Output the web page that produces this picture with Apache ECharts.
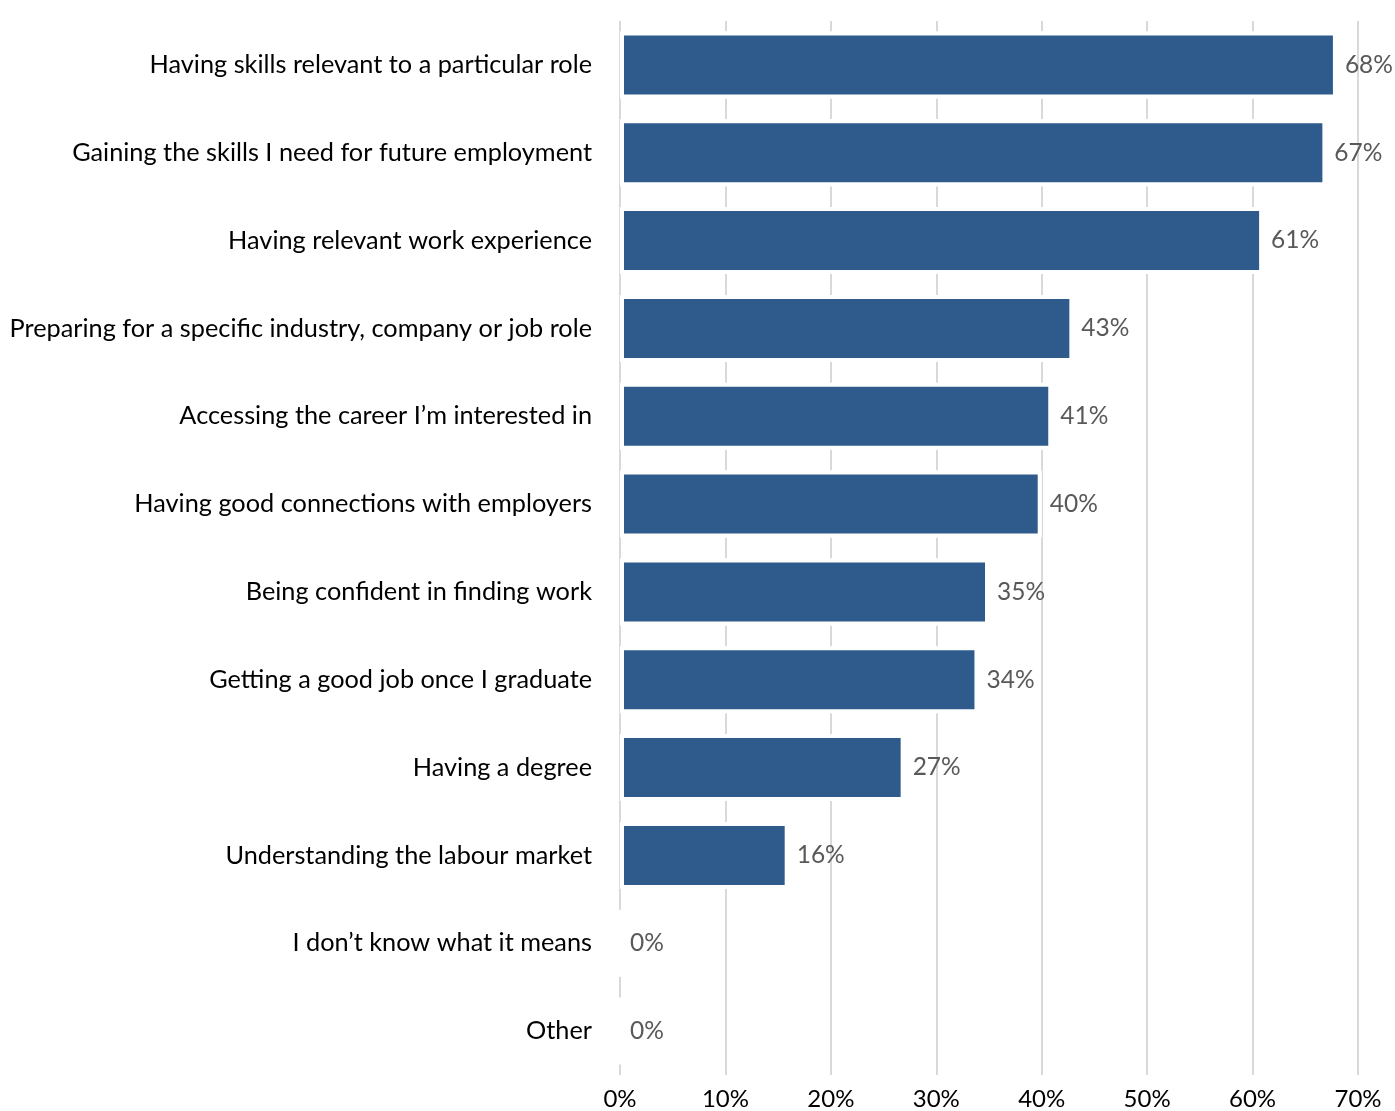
<!DOCTYPE html>
<html>
<head>
<meta charset="utf-8">
<script src="https://cdn.jsdelivr.net/npm/echarts@6/dist/echarts.min.js"></script>
<style>
html,body{margin:0;padding:0;background:#fff;}
#chart{width:1395px;height:1111px;}
</style>
</head>
<body>
<div id="chart"></div>
<script>
const categories = [
  "Having skills relevant to a particular role",
  "Gaining the skills I need for future employment",
  "Having relevant work experience",
  "Preparing for a specific industry, company or job role",
  "Accessing the career I\u2019m interested in",
  "Having good connections with employers",
  "Being confident in finding work",
  "Getting a good job once I graduate",
  "Having a degree",
  "Understanding the labour market",
  "I don\u2019t know what it means",
  "Other"
];
const values = [68, 67, 61, 43, 41, 40, 35, 34, 27, 16, 0, 0];
const xTicks = { min: 0, max: 70, interval: 10 };

const FONT = "Lato";
const chart = echarts.init(document.getElementById('chart'), null, { renderer: 'canvas' });
chart.setOption({
  backgroundColor: '#fff',
  animation: false,
  grid: { left: 620, right: 37, top: 21, bottom: 34, containLabel: false },
  xAxis: {
    type: 'value',
    min: xTicks.min, max: xTicks.max, interval: xTicks.interval,
    axisLine: { show: false },
    axisTick: { show: false },
    splitLine: { show: true, lineStyle: { color: '#d9d9d9', width: 2 } },
    axisLabel: { formatter: '{value}%', color: '#000', fontSize: 24, fontFamily: FONT, margin: 12 }
  },
  yAxis: {
    type: 'category',
    data: categories,
    inverse: true,
    axisLine: { show: false },
    axisTick: { show: false },
    splitLine: { show: false },
    axisLabel: { color: '#000', fontSize: 25.3, fontFamily: FONT, margin: 28 }
  },
  series: [{
    type: 'bar',
    data: values,
    barWidth: 67,
    silent: true,
    itemStyle: { color: '#ffffff' },
    label: { show: false }
  }, {
    type: 'bar',
    data: values,
    barWidth: 67,
    barGap: '-100%',
    itemStyle: { color: '#2e5a8c', borderColor: '#ffffff', borderWidth: 4 },
    label: {
      show: true, position: 'right', distance: 8,
      formatter: p => Math.round(p.value) + '%',
      color: '#595959', fontSize: 24.5, fontFamily: FONT
    }
  }]
});
</script>
</body>
</html>
